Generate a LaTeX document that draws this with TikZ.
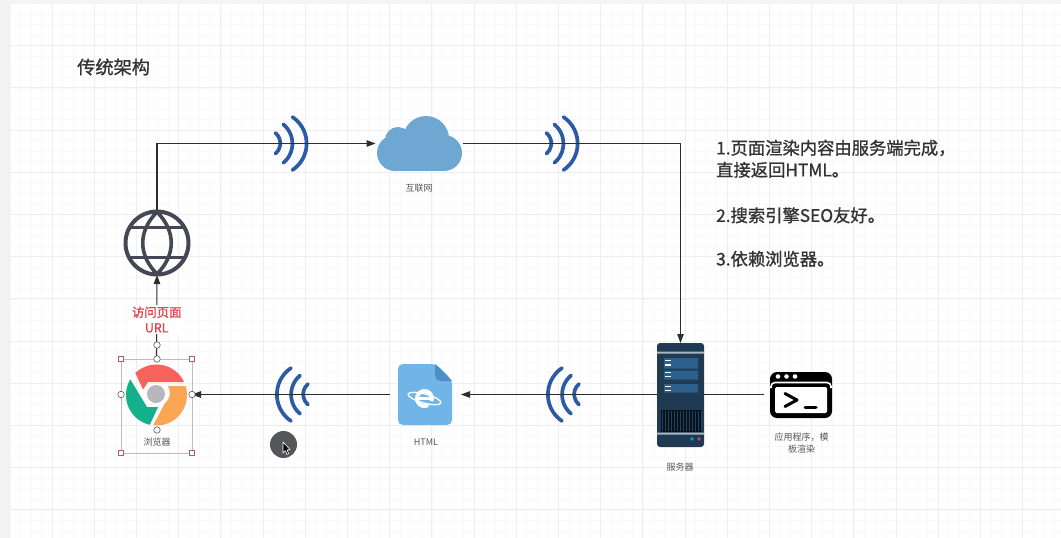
\documentclass[tikz,border=0pt]{standalone}
\usepackage{fontspec}
\setmainfont{Noto Sans CJK SC}
\newfontfamily\strongcjk[FakeBold=1.1]{Noto Sans CJK SC}
\usetikzlibrary{arrows.meta,calc}
\definecolor{pagegray}{HTML}{F4F4F5}
\definecolor{gridminor}{HTML}{F9F9F9}
\definecolor{gridmajor}{HTML}{EEEEEF}
\definecolor{linedark}{HTML}{2E2E30}
\definecolor{wifiblue}{HTML}{2C5AA5}
\definecolor{cloudblue}{HTML}{6EA8D2}
\definecolor{globegray}{HTML}{454754}
\definecolor{labelred}{HTML}{E2434B}
\definecolor{captiongray}{HTML}{555555}
\definecolor{titlegray}{HTML}{333333}
\definecolor{selbox}{HTML}{CDB4BA}
\definecolor{selhandle}{HTML}{A8606C}
\definecolor{srvdark}{HTML}{1F3A52}
\definecolor{srvrow}{HTML}{2B5F8C}
\definecolor{srvband}{HTML}{A9B7C3}
\definecolor{docblue}{HTML}{71B4E8}
\definecolor{docfold}{HTML}{4A90C6}
\definecolor{chromered}{HTML}{F7625C}
\definecolor{chromegreen}{HTML}{14B08C}
\definecolor{chromeorange}{HTML}{FCA555}
\definecolor{chromehub}{HTML}{B8B8BC}
\definecolor{pointerdisc}{HTML}{55565A}
\tikzset{
  iconbox/.style={inner sep=0pt,outer sep=0pt,minimum width=#1},
  conn/.style={draw=linedark,line width=1.1pt},
  connarrow/.style={conn,-{Triangle[length=9pt,width=6.5pt]}},
  caption/.style={font=\fontsize{9}{12.5}\selectfont,text=captiongray,align=center,inner sep=0pt},
  wifiarc/.style={draw=wifiblue,line width=3.7pt,line cap=round},
  handlesq/.style={draw=selhandle,fill=white,line width=.7pt,minimum size=5pt,inner sep=0pt},
  handlecirc/.style={draw=linedark!80,fill=white,line width=.6pt,circle,minimum size=6.5pt,inner sep=0pt},
}
\newcommand{\wifiicon}[3]{% x, y, direction
  \begin{scope}[shift={(#1,#2)},xscale=#3]
    \draw[wifiarc] (18,-26.5) arc[start angle=-56,end angle=56,radius=32];
    \draw[wifiarc] (9,-19) arc[start angle=-50,end angle=50,radius=25];
    \draw[wifiarc] (1,-10.5) arc[start angle=-50,end angle=50,radius=13.5];
  \end{scope}}
\begin{document}
\begin{tikzpicture}[x=1pt,y=-1pt]
\useasboundingbox (0,0) rectangle (1061,538);
\fill[pagegray] (0,0) rectangle (1061,538);
\fill[white] (9,4) rectangle (1061,538);
\begin{scope}
  \clip (9,4) rectangle (1061,538);
  \foreach \j in {0,...,100}{
    \pgfmathsetmacro{\gx}{9.8+10.55*\j}
    \pgfmathsetmacro{\gy}{3.4+10.55*\j}
    \draw[gridminor,line width=.6pt] (\gx,0) -- (\gx,538);
    \draw[gridminor,line width=.6pt] (0,\gy) -- (1061,\gy);
  }
  \foreach \j in {0,...,25}{
    \pgfmathsetmacro{\gx}{9.8+42.2*\j}
    \pgfmathsetmacro{\gy}{3.4+42.2*\j}
    \draw[gridmajor,line width=.7pt] (\gx,0) -- (\gx,538);
    \draw[gridmajor,line width=.7pt] (0,\gy) -- (1061,\gy);
  }
\end{scope}

% title and notes
\node[anchor=west,inner sep=0pt,text=titlegray,font=\fontsize{18.2}{20}\selectfont\strongcjk] (title) at (77,67) {传统架构};
\node[anchor=north west,inner sep=0pt,align=left,text=titlegray,font=\fontsize{17.3}{22}\selectfont\strongcjk] (notes) at (716,139.5)
  {1.页面渲染内容由服务端完成，\\直接返回HTML。\\[23.5pt]2.搜索引擎SEO友好。\\[21.5pt]3.依赖浏览器。};

% anchor nodes of the icons
\node[iconbox=66pt,minimum height=66pt] (globe) at (157,243) {};
\node[iconbox=86pt,minimum height=55pt] (cloud) at (419.5,143.5) {};
\node[iconbox=47pt,minimum height=103pt] (server) at (680.5,394.5) {};
\node[iconbox=62pt,minimum height=46pt] (term) at (801,394.5) {};
\node[iconbox=54pt,minimum height=61pt] (html) at (425,394.5) {};
\node[iconbox=71pt,minimum height=71pt] (browser) at (156.5,394.5) {};

% wifi icons
\wifiicon{274.5}{143.5}{1}
\wifiicon{545.5}{143.5}{1}
\wifiicon{309}{394.5}{-1}
\wifiicon{580}{394.5}{-1}

% connectors
\draw[connarrow] (globe.north) |- ([xshift=-1pt]cloud.west);
\draw[connarrow] (cloud.east) -| (server.north);
\draw[connarrow] (server.west) -- ([xshift=9pt]html.east);
\draw[connarrow] ([xshift=-8pt]html.west) -- (browser.east);
\draw[conn] (server.east) -- ([xshift=-6pt]term.west);
\draw[connarrow] (browser.north) -- ([yshift=1pt]globe.south)
  node[pos=.47,fill=white,inner sep=1.5pt,align=center,text=labelred,font=\fontsize{12.4}{15.5}\selectfont\strongcjk] (urllabel) {访问页面\\URL};

% globe
\begin{scope}[shift={(globe.center)}]
  \draw[globegray,line width=4pt] (0,0) circle[radius=31.5];
  \draw[globegray,line width=3.6pt] (0,-31) .. controls (-19,-12) and (-19,12) .. (0,31) .. controls (19,12) and (19,-12) .. (0,-31);
  \draw[globegray,line width=3.6pt] (-28,-15.5) -- (28,-15.5) (-28,14.5) -- (28,14.5);
\end{scope}

% cloud
\fill[cloudblue] (395,153) circle[radius=18];
\fill[cloudblue] (444,153) circle[radius=18];
\fill[cloudblue] (426,139) circle[radius=23];
\fill[cloudblue] (398,140) circle[radius=13];
\fill[cloudblue] (448,150) circle[radius=12];
\fill[cloudblue] (395,142) rectangle (444,171);
\node[caption] (cloudcap) at (419,188) {互联网};

% html document
\fill[docblue,rounded corners=5pt] (398,364) -- (436,364) -- (452,380) -- (452,425) -- (398,425) -- cycle;
\fill[docfold] (435,364) -- (452,381) -- (440,381) to[out=180,in=-90] (435,375) -- cycle;
\begin{scope}[shift={(424.5,398.5)}]
  \draw[white,line width=1.3pt,rotate=-15] (0,0) ellipse[x radius=17,y radius=4.5];
  \draw[white,line width=4pt] (7,2.6) arc[start angle=20,end angle=-300,radius=7.5];
  \draw[white,line width=2.6pt] (-7,0) -- (8,0);
\end{scope}
\node[caption] (htmlcap) at (426,442) {HTML};

% server
\fill[srvdark,rounded corners=3pt] (657,343) rectangle (704,447);
\fill[srvband] (657,351.5) rectangle (704,353.5) (657,432.5) rectangle (704,434.5);
\fill[srvrow] (664,358) rectangle (698,368.5) (664,370.5) rectangle (698,379.5) (664,384) rectangle (698,392.5);
\foreach \ry in {360.5,365,372.5,376.5,386.5,390.5}
  \fill[white] (665,\ry-.7) rectangle (671,\ry+.7);
\fill[black!70!srvdark] (661,410) rectangle (702,432);
\foreach \sx in {662,665,...,701}
  \draw[srvrow!70!black,line width=.9pt] (\sx,411) -- (\sx,431);
\fill[teal!70!cyan] (692,439) circle[radius=1.8];
\fill[purple!70!pink] (699,439) circle[radius=1.8];
\node[caption] (servercap) at (680,467) {服务器};

% terminal
\fill[black,rounded corners=7pt] (770,372) rectangle (832,418);
\fill[white] (778,376.5) circle[radius=2.3] (786.5,376.5) circle[radius=2.3] (795,376.5) circle[radius=2.3];
\draw[white,line width=1.6pt,rounded corners=4pt] (771,388) -- (771,382.5) -- (831,382.5) -- (831,388);
\fill[white,rounded corners=1.5pt] (775,387) rectangle (827,413);
\draw[black,line width=3pt,line cap=round,line join=round] (785,393.5) -- (797,400) -- (785,406.5);
\draw[black,line width=3pt,line cap=round] (805,407) -- (816,407);
\node[caption] (termcap) at (801.5,443) {应用程序，模\\板渲染};

% chrome icon
\begin{scope}
  \clip (156.5,395) circle[radius=30.5];
  \fill[chromered] (143,389.5) -- (133,368) -- (140,355) -- (195,355) -- (195,382) -- (148,382) -- cycle;
  \fill[chromeorange] (168,386) -- (195,386) -- (195,435) -- (148,435) -- (165,403) .. controls (171,398) and (171,392) .. (168,386) -- cycle;
  \fill[chromegreen] (124,369) -- (110,380) -- (110,435) -- (147,431) -- (158,407) -- (147,407) -- cycle;
\end{scope}
\fill[chromehub] (156,394) circle[radius=9];
\node[caption] (browsercap) at (157,442) {浏览器};

% selection frame and handles
\draw[selbox,line width=.8pt] (121,359) rectangle (192,453);
\foreach \hx/\hy/\hn in {121/359/a,192/359/b,121/453/c,192/453/d}
  \node[handlesq] (sq\hn) at (\hx,\hy) {};
\node[handlecirc] (hroot) at (157,345) {};
\node[handlecirc] (htop) at (157,359) {};
\node[handlecirc] (hleft) at (121,394.5) {};
\node[handlecirc] (hright) at (192,394.5) {};
\node[handlecirc] (hbottom) at (157,430) {};

% pointer
\node[circle,fill=pointerdisc,minimum size=27pt,inner sep=0pt] (pointer) at (283.5,444.5) {};
\draw[white,fill=black,line width=.6pt,line join=round] (283,442) -- (283,453) -- (285.3,450.7) -- (287,454.5) -- (288.6,453.7) -- (287,450) -- (290,449.5) -- cycle;
\end{tikzpicture}
\end{document}
